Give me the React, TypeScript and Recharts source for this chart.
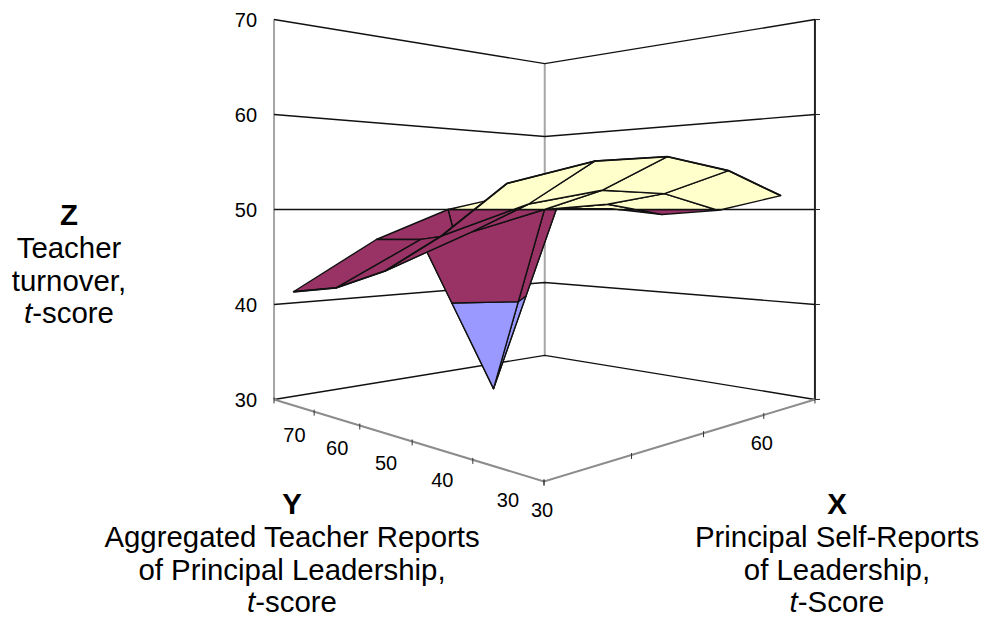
import { Scatter, ScatterChart, XAxis, YAxis } from "recharts";

// t-score surface: rows run along Y, columns along X
const xCategories = [30, 40, 50, 60, 70];
const yCategories = [30, 40, 50, 60, 70];
const zTicks = [30, 40, 50, 60, 70];
const xLabels = ["30", "", "", "60", ""];

const zRowY30 = [52.0, 54.1, 54.9, 53.9, 51.5];
const zRowY40 = [47.8, 50.5, 51.9, 51.7, 49.9];
const zRowY50 = [44.5, 47.8, 50.0, 50.6, 49.4];
const zRowY60 = [42.5, 46.9, 30.0, 50.1, 50.1];
const zRowY70 = [41.6, 46.7, 50.0, 51.8, 50.7];
const zRows = [zRowY30, zRowY40, zRowY50, zRowY60, zRowY70];

const bands = [
  { low: 30, high: 40, fill: "#9999ff" },
  { low: 40, high: 50, fill: "#993366" },
  { low: 50, high: 60, fill: "#ffffcc" },
];

const WIDTH = 986;
const HEIGHT = 620;
const WALL = "#a6a6a6";
const INK = "#111";

type P3 = { u: number; v: number; z: number };

// camera for the box: eye level sits at z = 50
function project(u: number, v: number, z: number) {
  const w = 1 + 0.432 * (u + v);
  return {
    px: (544 + 623 * u - 151.6 * v) / w,
    py: 209.5 + ((50 - z) * 13.6) / w,
  };
}
const pt = (p: P3) => project(p.u, p.v, p.z);

const uOf = (i: number) => i / (xCategories.length - 1);
const vOf = (j: number) => (j + 0.5) / yCategories.length;

function clipZ(poly: P3[], limit: number, keepBelow: boolean) {
  const out: P3[] = [];
  const inside = (p: P3) => (keepBelow ? p.z <= limit : p.z >= limit);
  poly.forEach((a, i) => {
    const b = poly[(i + 1) % poly.length];
    if (inside(a)) out.push(a);
    if (inside(a) !== inside(b)) {
      const t = (limit - a.z) / (b.z - a.z);
      out.push({ u: a.u + (b.u - a.u) * t, v: a.v + (b.v - a.v) * t, z: limit });
    }
  });
  return out;
}

function surfacePieces() {
  const cells: { depth: number; corners: P3[] }[] = [];
  for (let j = 0; j < yCategories.length - 1; j++) {
    for (let i = 0; i < xCategories.length - 1; i++) {
      const corners = [
        { u: uOf(i), v: vOf(j), z: zRows[j][i] },
        { u: uOf(i + 1), v: vOf(j), z: zRows[j][i + 1] },
        { u: uOf(i + 1), v: vOf(j + 1), z: zRows[j + 1][i + 1] },
        { u: uOf(i), v: vOf(j + 1), z: zRows[j + 1][i] },
      ];
      cells.push({ depth: uOf(i) + vOf(j), corners });
    }
  }
  cells.sort((a, b) => b.depth - a.depth);
  const pieces: { fill: string; data: { px: number; py: number }[] }[] = [];
  cells.forEach((cell) => {
    bands.forEach((band) => {
      const part = clipZ(clipZ(cell.corners, band.low, false), band.high, true);
      if (part.length > 2) pieces.push({ fill: band.fill, data: part.map(pt) });
    });
  });
  return pieces;
}

const none = () => <g />;

function polygon(fill: string) {
  return (props: any) => (
    <path
      d={"M" + props.points.map((p: any) => `${p.x},${p.y}`).join("L") + "Z"}
      fill={fill}
      stroke={INK}
      strokeWidth={1.4}
      strokeLinejoin="round"
    />
  );
}

function Segment(data: { px: number; py: number }[], stroke: string, width: number, key: string) {
  return (
    <Scatter
      key={key}
      data={data}
      shape={none}
      line={{ stroke, strokeWidth: width }}
      isAnimationActive={false}
    />
  );
}

const tickLabel = (anchor: "middle" | "end") => (props: any) => (
  <text
    x={props.cx}
    y={props.cy}
    textAnchor={anchor}
    dominantBaseline="central"
    fontFamily="Liberation Sans, Arial, sans-serif"
    fontSize={20}
    fill="#000"
  >
    {props.payload.label}
  </text>
);

const titleStyle: React.CSSProperties = {
  position: "absolute",
  fontFamily: "Liberation Sans, Arial, sans-serif",
  fontSize: 29.4,
  lineHeight: "32.8px",
  textAlign: "center",
  color: "#000",
  whiteSpace: "nowrap",
  transform: "translateX(-50%)",
};

function FloorTicks() {
  const out: any[] = [];
  xCategories.forEach((_, i) => {
    const p = project(uOf(i), 0, 30);
    out.push(Segment([{ px: p.px, py: p.py - 2 }, { px: p.px, py: p.py + 4 }], "#333", 1, `xt${i}`));
  });
  for (let j = 0; j <= yCategories.length; j++) {
    const p = project(0, j / yCategories.length, 30);
    out.push(Segment([{ px: p.px, py: p.py - 2 }, { px: p.px, py: p.py + 4 }], "#333", 1, `yt${j}`));
  }
  return out;
}

export default function App() {
  const L = 1;
  const frontEdge = zRows.map((row, j) => project(uOf(0), vOf(j), row[0]));
  const sideEdge = zRows[0].map((z, i) => project(uOf(i), vOf(0), z));
  return (
    <div style={{ position: "absolute", left: 0, top: 0, width: WIDTH, height: HEIGHT, background: "#fff" }}>
      <ScatterChart width={WIDTH} height={HEIGHT} margin={{ top: 0, right: 0, bottom: 0, left: 0 }}>
        <XAxis type="number" dataKey="px" domain={[0, WIDTH]} hide allowDataOverflow />
        <YAxis type="number" dataKey="py" domain={[0, HEIGHT]} reversed hide allowDataOverflow />

        {/* walls */}
        {Segment([project(0, L, 30), project(0, L, 70)], WALL, 2, "wl")}
        {Segment([project(L, L, 30), project(L, L, 70)], WALL, 2, "wb")}
        {Segment([project(L, 0, 30), project(L, 0, 70)], "#222", 2, "wr")}
        {zTicks.map((z) =>
          Segment([project(0, L, z), project(L, L, z), project(L, 0, z)], "#111", 1.4, `g${z}`),
        )}
        {zTicks.map((z) => {
          const p = project(L, 0, z);
          return Segment([p, { px: p.px + 5, py: p.py }], "#222", 1, `zt${z}`);
        })}

        {/* floor */}
        {Segment([project(0, L, 30), project(0, 0, 30), project(L, 0, 30)], "#8c8c8c", 2, "floor")}
        {FloorTicks()}

        {/* surface, far cells first */}
        {surfacePieces().map((piece, i) => (
          <Scatter
            key={`s${i}`}
            data={piece.data}
            shape={none}
            line={polygon(piece.fill)}
            isAnimationActive={false}
          />
        ))}
        {Segment(frontEdge, "#111", 1.8, "front")}
        {Segment(sideEdge, "#111", 1.8, "side")}

        {/* tick labels */}
        <Scatter
          data={zTicks.map((z) => {
            const p = project(0, L, z);
            return { px: p.px - 17, py: p.py + 0.5, label: String(z) };
          })}
          shape={tickLabel("end")}
          isAnimationActive={false}
        />
        <Scatter
          data={yCategories.map((y, j) => {
            const p = project(0, vOf(j), 30);
            return { px: p.px + 1, py: p.py + 29.5, label: String(y) };
          })}
          shape={tickLabel("middle")}
          isAnimationActive={false}
        />
        <Scatter
          data={xLabels.map((label, i) => {
            const p = project(uOf(i), 0, 30);
            return { px: p.px - 2, py: p.py + 28.5, label };
          })}
          shape={tickLabel("middle")}
          isAnimationActive={false}
        />
      </ScatterChart>

      <div style={{ ...titleStyle, left: 69, top: 199 }}>
        <b>Z</b>
        <br />
        Teacher
        <br />
        turnover,
        <br />
        <i>t</i>-score
      </div>
      <div style={{ ...titleStyle, left: 292, top: 488 }}>
        <b>Y</b>
        <br />
        Aggregated Teacher Reports
        <br />
        of Principal Leadership,
        <br />
        <i>t</i>-score
      </div>
      <div style={{ ...titleStyle, left: 837, top: 488 }}>
        <b>X</b>
        <br />
        Principal Self-Reports
        <br />
        of Leadership,
        <br />
        <i>t</i>-Score
      </div>
    </div>
  );
}
